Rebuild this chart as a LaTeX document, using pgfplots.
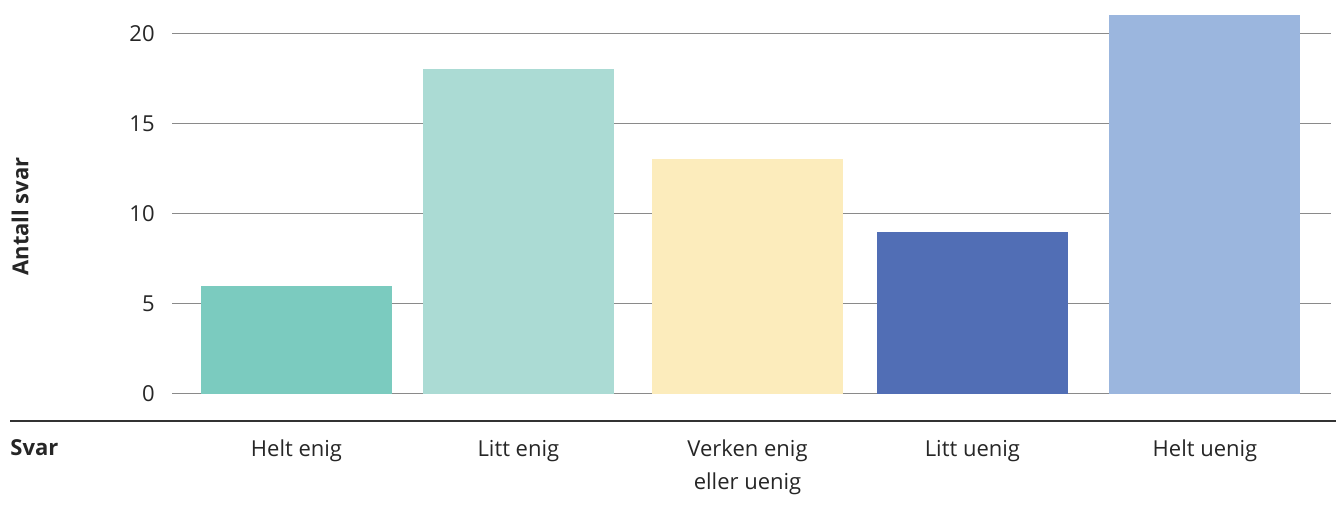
\documentclass[border=0pt]{standalone}
\usepackage{pgfplots}
\pgfplotsset{compat=1.18}
\usepackage{fontspec}
\setmainfont{Open Sans}

\definecolor{txt}{HTML}{262626}
\definecolor{gridc}{HTML}{8A8A8A}
\definecolor{rule}{HTML}{333333}
\definecolor{cA}{HTML}{7BCBBF}
\definecolor{cB}{HTML}{ABDBD4}
\definecolor{cC}{HTML}{FCECBC}
\definecolor{cD}{HTML}{516EB5}
\definecolor{cE}{HTML}{9BB6DE}

\begin{document}
\fontsize{11}{16.5}\selectfont
\begin{tikzpicture}[x=0.5pt, y=-0.5pt]
\useasboundingbox (0,0) rectangle (1336,510);
\begin{axis}[
  at={(86pt,-196.75pt)}, anchor=south west,
  scale only axis,
  width=579.5pt, height=196.75pt,
  xmin=-0.548, xmax=4.555,
  ymin=0, ymax=21.86,
  axis line style={draw=none},
  major tick length=0pt,
  ytick={0,5,10,15,20},
  ymajorgrids,
  grid style={gridc, line width=0.75pt},
  xtick={0,0.977,1.986,2.976,4},
  xticklabels={Helt enig, Litt enig, {Verken enig\\eller uenig}, Litt uenig, Helt uenig},
  /pgf/number format/assume math mode=true,
  tick label style={text=txt, font=\fontsize{11}{16.5}\selectfont},
  yticklabel style={anchor=east, inner sep=0pt},
  yticklabel shift=8.5pt,
  xticklabel style={anchor=north, inner sep=0pt, align=center},
  xticklabel shift=23pt,
  ylabel={Antall svar},
  every axis y label/.style={at={(axis description cs:-0.131,0.45)}, rotate=90, anchor=center, font=\bfseries, text=txt},
  clip=false,
]
\addplot[ybar, bar width=0.841, bar shift=0pt, fill=cA, draw=none] coordinates {(0,6)};
\addplot[ybar, bar width=0.841, bar shift=0pt, fill=cB, draw=none] coordinates {(0.977,18)};
\addplot[ybar, bar width=0.841, bar shift=0pt, fill=cC, draw=none] coordinates {(1.986,13)};
\addplot[ybar, bar width=0.841, bar shift=0pt, fill=cD, draw=none] coordinates {(2.976,9)};
\addplot[ybar, bar width=0.841, bar shift=0pt, fill=cE, draw=none] coordinates {(4,21)};
\end{axis}
\draw[rule, line width=0.75pt] (10,421) -- (1336,421);
\node[anchor=base west, inner sep=0pt, font=\bfseries, text=txt] at (10,455) {Svar};
\end{tikzpicture}
\end{document}
